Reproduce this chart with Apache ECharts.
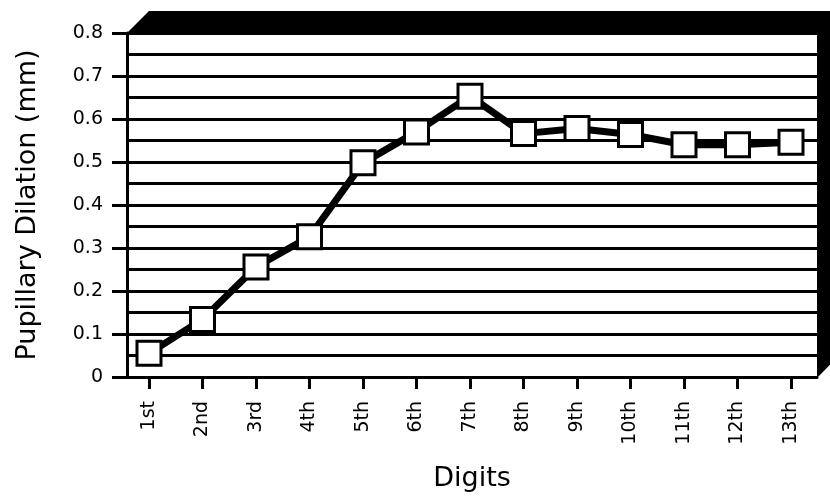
<!DOCTYPE html>
<html>
<head>
<meta charset="utf-8">
<script src="https://cdn.jsdelivr.net/npm/echarts@6/dist/echarts.min.js"></script>
<style>html,body{margin:0;padding:0;background:#fff}#c{width:830px;height:497px}</style>
</head>
<body>
<div id="c"></div>
<script>
var categories = ['1st','2nd','3rd','4th','5th','6th','7th','8th','9th','10th','11th','12th','13th'];
var dilation = [0.055, 0.134, 0.256, 0.326, 0.498, 0.570, 0.653, 0.566, 0.578, 0.564, 0.540, 0.540, 0.546];
var yTicks = [0, 0.1, 0.2, 0.3, 0.4, 0.5, 0.6, 0.7, 0.8];

var positions = categories.map(function (c, i) { return i + 1; });
var seriesData = dilation.map(function (v, i) { return [positions[i], v]; });

var G = { left: 127, right: 13, top: 33, bottom: 120 };
var W = 830, H = 497, D = 22;
var gx0 = G.left, gx1 = W - G.right, gy0 = G.top, gy1 = H - G.bottom;
var font = 'DejaVu Sans';

var chart = echarts.init(document.getElementById('c'));
chart.setOption({
  animation: false,
  backgroundColor: '#fff',
  grid: { left: G.left, right: G.right, top: G.top, bottom: G.bottom },
  xAxis: {
    type: 'value',
    min: 0.589, max: 13.486,
    name: 'Digits', nameLocation: 'middle', nameGap: 88,
    nameTextStyle: { fontFamily: font, fontSize: 27, color: '#000' },
    axisLine: { show: true, onZero: false, lineStyle: { color: '#000', width: 3 } },
    axisTick: { show: true, customValues: positions, length: 12, lineStyle: { color: '#000', width: 3 } },
    axisLabel: {
      customValues: positions, rotate: 90, margin: 24,
      fontFamily: font, fontSize: 19, color: '#000',
      formatter: function (v) { return categories[Math.round(v) - 1] || ''; }
    },
    splitLine: { show: false }
  },
  yAxis: {
    type: 'value', min: 0, max: 0.8, interval: 0.1,
    name: 'Pupillary Dilation (mm)', nameLocation: 'middle', nameGap: 86, nameRotate: 90,
    nameTextStyle: { fontFamily: font, fontSize: 27, color: '#000' },
    axisLine: { show: true, lineStyle: { color: '#000', width: 3 } },
    axisTick: { show: true, length: 15, lineStyle: { color: '#000', width: 3 } },
    axisLabel: {
      margin: 24, fontFamily: font, fontSize: 19, color: '#000',
      formatter: function (v) { var r = Math.round(v * 10) / 10; return r === 0 ? '0' : r.toFixed(1); }
    },
    splitLine: { show: true, lineStyle: { color: '#000', width: 3 } },
    minorTick: { show: false, splitNumber: 2 },
    minorSplitLine: { show: true, lineStyle: { color: '#000', width: 3 } }
  },
  graphic: [{
    type: 'polygon', z: 100, silent: true,
    shape: { points: [[gx0, gy0], [gx0 + D, gy0 - D], [gx1 + D + 20, gy0 - D], [gx1 + D + 20, gy1 - D - 20], [gx1, gy1 + 1], [gx1, gy0]] },
    style: { fill: '#000' }
  }],
  series: [{
    type: 'line',
    data: seriesData,
    symbol: 'rect', symbolSize: 24,
    lineStyle: { color: '#000', width: 7 },
    itemStyle: { color: '#fff', borderColor: '#000', borderWidth: 3 },
    z: 5
  }]
});
</script>
</body>
</html>
